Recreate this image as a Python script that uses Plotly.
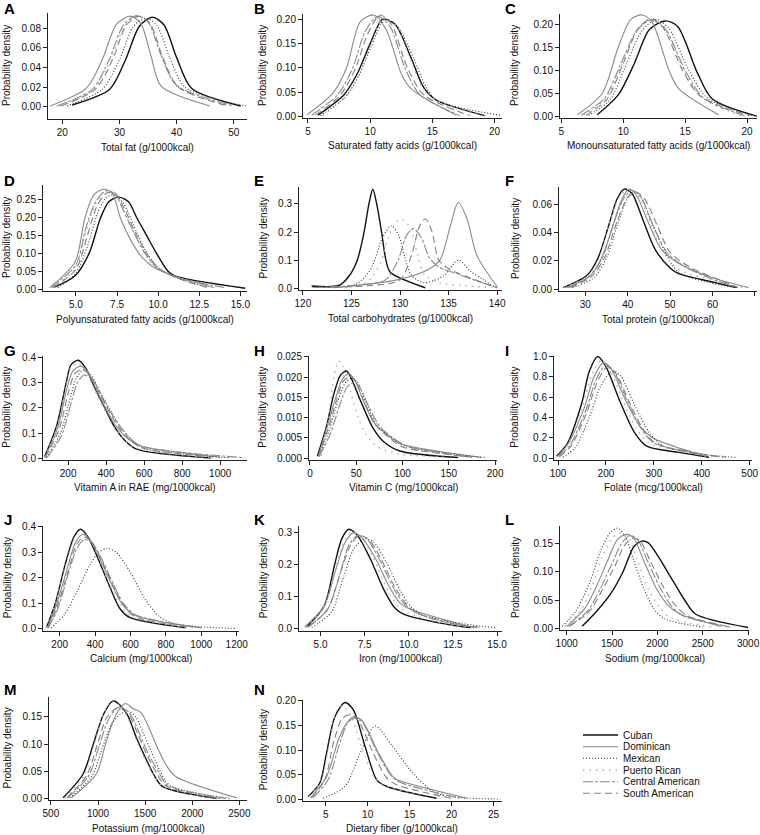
import plotly.graph_objects as go

W, H = 760, 835
SERIES = ["Cuban", "Dominican", "Mexican", "Puerto Rican", "Central American", "South American"]

# ---------------- data (series order as SERIES) ----------------
A_x = [[21.7, 28.3, 31.0, 33.5, 35.8, 37.8, 40.0, 42.6, 51.2],
       [17.9, 24.2, 27.0, 29.5, 31.9, 33.7, 35.5, 37.3, 45.8],
       [20.8, 27.0, 30.0, 32.5, 34.6, 36.5, 38.8, 41.5, 52.5],
       [19.5, 25.5, 28.5, 31.0, 33.2, 35.2, 37.5, 40.0, 49.5],
       [19.0, 25.3, 28.2, 30.7, 33.0, 35.0, 37.3, 40.0, 50.0],
       [19.8, 25.8, 28.8, 31.2, 33.4, 35.3, 37.6, 40.3, 49.0]]
A_y = [[0.002, 0.018, 0.047, 0.082, 0.091, 0.083, 0.050, 0.019, 0.001],
       [0.001, 0.019, 0.048, 0.084, 0.092, 0.085, 0.052, 0.021, 0.001],
       [0.001, 0.018, 0.048, 0.082, 0.090, 0.083, 0.050, 0.020, 0.0005],
       [0.001, 0.018, 0.048, 0.083, 0.092, 0.085, 0.050, 0.021, 0.001],
       [0.001, 0.018, 0.048, 0.083, 0.0925, 0.086, 0.052, 0.022, 0.001],
       [0.001, 0.018, 0.048, 0.083, 0.092, 0.085, 0.050, 0.020, 0.001]]

B_x = [[5.8, 7.9, 9.0, 10.0, 11.0, 12.0, 13.3, 14.3, 15.3, 19.2],
       [4.9, 7.0, 8.1, 9.2, 10.3, 11.3, 12.6, 13.4, 16.9],
       [6.0, 8.0, 9.1, 10.1, 11.2, 12.2, 13.5, 14.5, 15.4, 20.8],
       [6.2, 8.1, 9.1, 10.1, 11.0, 12.0, 13.2, 14.2, 15.3, 19.0],
       [5.3, 7.4, 8.6, 9.6, 10.6, 11.6, 12.8, 14.0, 17.2],
       [5.6, 7.6, 8.8, 9.8, 10.8, 11.7, 13.0, 14.3, 18.0]]
B_y = [[0.003, 0.045, 0.09, 0.15, 0.2, 0.19, 0.12, 0.06, 0.034, 0.002],
       [0.003, 0.048, 0.1, 0.195, 0.209, 0.178, 0.082, 0.055, 0.003],
       [0.002, 0.04, 0.085, 0.145, 0.2, 0.185, 0.12, 0.06, 0.033, 0.001],
       [0.002, 0.042, 0.088, 0.15, 0.201, 0.19, 0.12, 0.06, 0.034, 0.002],
       [0.003, 0.045, 0.1, 0.175, 0.206, 0.185, 0.1, 0.045, 0.002],
       [0.003, 0.044, 0.098, 0.17, 0.209, 0.19, 0.1, 0.045, 0.002]]

C_x = [[7.9, 9.6, 10.9, 12.1, 13.4, 14.4, 16.0, 17.2, 20.8],
       [6.3, 8.3, 9.6, 10.6, 11.5, 12.3, 13.7, 14.5, 17.7],
       [7.2, 8.9, 10.2, 11.5, 12.7, 13.7, 15.3, 16.8, 20.6],
       [6.8, 8.6, 10.0, 11.2, 12.3, 13.3, 14.9, 16.4, 19.5],
       [6.6, 8.5, 9.9, 11.2, 12.4, 13.4, 15.0, 16.5, 19.8],
       [7.0, 8.7, 10.0, 11.2, 12.2, 13.2, 14.8, 16.2, 20.2]]
C_y = [[0.004, 0.047, 0.115, 0.188, 0.207, 0.195, 0.094, 0.038, 0.001],
       [0.004, 0.05, 0.15, 0.21, 0.22, 0.206, 0.1, 0.06, 0.004],
       [0.003, 0.035, 0.11, 0.185, 0.21, 0.19, 0.1, 0.04, 0.001],
       [0.003, 0.04, 0.12, 0.19, 0.212, 0.195, 0.1, 0.04, 0.002],
       [0.003, 0.04, 0.12, 0.19, 0.21, 0.19, 0.1, 0.04, 0.002],
       [0.003, 0.038, 0.115, 0.19, 0.211, 0.193, 0.1, 0.045, 0.002]]

D_x = [[3.7, 4.95, 5.8, 6.5, 7.0, 7.6, 8.2, 8.7, 9.3, 9.9, 10.6, 11.0, 15.3],
       [3.4, 4.95, 5.55, 6.1, 6.7, 7.2, 7.7, 8.3, 9.0, 9.7, 11.0, 13.4],
       [3.9, 5.0, 5.7, 6.3, 6.8, 7.3, 7.9, 8.5, 9.2, 10.0, 11.2, 13.0],
       [3.6, 5.0, 5.6, 6.2, 6.8, 7.3, 7.9, 8.5, 9.2, 9.9, 11.2, 13.5],
       [3.5, 5.0, 5.6, 6.2, 6.8, 7.3, 7.9, 8.5, 9.2, 9.9, 11.2, 14.0],
       [3.6, 5.0, 5.7, 6.3, 6.9, 7.4, 8.0, 8.6, 9.3, 10.0, 11.2, 13.0]]
D_y = [[0.005, 0.037, 0.1, 0.2, 0.245, 0.258, 0.245, 0.2, 0.15, 0.1, 0.05, 0.037, 0.002],
       [0.004, 0.076, 0.2, 0.265, 0.28, 0.27, 0.2, 0.14, 0.09, 0.062, 0.036, 0.004],
       [0.003, 0.045, 0.12, 0.21, 0.255, 0.265, 0.24, 0.18, 0.11, 0.06, 0.03, 0.005],
       [0.004, 0.06, 0.16, 0.24, 0.275, 0.272, 0.22, 0.16, 0.1, 0.06, 0.032, 0.004],
       [0.004, 0.068, 0.17, 0.245, 0.275, 0.27, 0.22, 0.16, 0.1, 0.06, 0.032, 0.004],
       [0.004, 0.055, 0.15, 0.235, 0.27, 0.268, 0.22, 0.16, 0.1, 0.06, 0.03, 0.004]]

E_x = [[120.9, 123.7, 124.7, 125.6, 126.3, 126.8, 127.2, 127.6, 128.1, 128.55, 129.0, 132.6],
       [123.1, 129.7, 132.8, 134.1, 135.2, 136.0, 136.9, 137.9, 140.0],
       [121.5, 125.5, 127.0, 128.2, 129.1, 129.9, 130.5, 131.2, 132.5, 134.5, 136.0, 137.3, 138.6, 139.8],
       [123.0, 126.5, 128.0, 129.0, 130.0, 131.0, 131.8, 132.5, 134.0, 136.5, 139.5],
       [121.0, 126.0, 128.5, 129.8, 130.7, 131.4, 132.2, 133.0, 134.0, 136.0, 138.0, 140.0],
       [122.0, 127.0, 130.0, 131.2, 132.0, 132.6, 133.3, 134.0, 135.0, 137.0, 140.0]]
E_y = [[0.008, 0.01, 0.041, 0.1, 0.2, 0.3, 0.352, 0.3, 0.2, 0.1, 0.057, 0.002],
       [0.002, 0.03, 0.065, 0.1, 0.224, 0.306, 0.247, 0.118, 0.006],
       [0.003, 0.015, 0.07, 0.18, 0.222, 0.185, 0.11, 0.045, 0.02, 0.045, 0.1, 0.06, 0.03, 0.004],
       [0.003, 0.02, 0.09, 0.2, 0.246, 0.22, 0.12, 0.05, 0.02, 0.01, 0.002],
       [0.003, 0.012, 0.03, 0.1, 0.19, 0.212, 0.18, 0.11, 0.075, 0.05, 0.025, 0.003],
       [0.003, 0.01, 0.03, 0.12, 0.22, 0.247, 0.2, 0.1, 0.07, 0.04, 0.002]]

F_x = [[24.8, 30.5, 33.0, 35.5, 37.5, 39.2, 41.0, 43.5, 46.5, 50.0, 52.0, 60.0, 65.6],
       [25.5, 31.0, 33.5, 36.0, 38.5, 40.3, 42.0, 44.5, 48.0, 52.2, 60.0, 68.5],
       [27.0, 32.0, 35.0, 37.5, 40.0, 41.5, 43.0, 46.0, 49.0, 52.0, 60.0, 66.0],
       [25.0, 30.5, 33.0, 35.5, 38.0, 40.5, 42.5, 45.0, 48.0, 52.0, 60.0, 67.0],
       [26.0, 31.0, 34.0, 36.5, 39.0, 41.0, 43.0, 46.0, 49.5, 54.0, 60.0, 66.0],
       [26.5, 31.5, 34.5, 37.5, 40.0, 42.0, 44.0, 47.0, 50.0, 55.0, 62.0, 66.0]]
F_y = [[0.001, 0.01, 0.022, 0.045, 0.064, 0.071, 0.068, 0.05, 0.028, 0.015, 0.011, 0.005, 0.001],
       [0.001, 0.009, 0.02, 0.04, 0.063, 0.071, 0.067, 0.05, 0.028, 0.018, 0.008, 0.001],
       [0.001, 0.008, 0.022, 0.045, 0.065, 0.069, 0.066, 0.045, 0.025, 0.012, 0.004, 0.001],
       [0.001, 0.009, 0.02, 0.045, 0.065, 0.071, 0.066, 0.05, 0.028, 0.014, 0.006, 0.001],
       [0.001, 0.009, 0.022, 0.045, 0.064, 0.07, 0.066, 0.045, 0.025, 0.015, 0.007, 0.001],
       [0.001, 0.009, 0.022, 0.048, 0.065, 0.069, 0.064, 0.045, 0.026, 0.015, 0.006, 0.001]]

G_x = [[75, 140, 190, 215, 253, 290, 340, 400, 440, 500, 560, 950],
       [78, 145, 195, 225, 265, 300, 350, 410, 460, 520, 580, 1000],
       [85, 160, 215, 245, 280, 320, 370, 430, 480, 540, 600, 1050],
       [75, 140, 190, 215, 250, 290, 340, 400, 445, 500, 560, 950],
       [90, 165, 220, 250, 285, 325, 375, 430, 480, 540, 600, 1130],
       [80, 150, 205, 235, 270, 310, 360, 420, 470, 530, 590, 1000]]
G_y = [[0.005, 0.13, 0.3, 0.37, 0.388, 0.36, 0.28, 0.19, 0.13, 0.07, 0.037, 0.002],
       [0.005, 0.12, 0.28, 0.345, 0.365, 0.345, 0.27, 0.18, 0.12, 0.075, 0.05, 0.005],
       [0.004, 0.1, 0.25, 0.32, 0.35, 0.33, 0.26, 0.18, 0.12, 0.07, 0.04, 0.003],
       [0.005, 0.12, 0.29, 0.36, 0.375, 0.35, 0.27, 0.18, 0.12, 0.07, 0.04, 0.003],
       [0.004, 0.09, 0.23, 0.3, 0.33, 0.315, 0.25, 0.175, 0.12, 0.07, 0.045, 0.003],
       [0.005, 0.11, 0.27, 0.335, 0.35, 0.335, 0.265, 0.18, 0.12, 0.07, 0.042, 0.004]]

H_x = [[8, 18, 26, 33, 39.5, 45, 55, 68, 80, 97, 160],
       [9, 19, 28, 35, 42, 48, 58, 70, 85, 99, 185],
       [10, 21, 30, 38, 45, 51, 61, 73, 88, 102, 190],
       [12, 20, 26, 31, 36, 42, 50, 60, 72, 90, 150],
       [10, 22, 32, 40, 47, 53, 63, 75, 90, 105, 175],
       [9, 20, 29, 36, 43, 49, 59, 71, 86, 100, 180]]
H_y = [[0.0005, 0.008, 0.016, 0.0205, 0.0215, 0.0195, 0.014, 0.0075, 0.004, 0.0018, 0.0002],
       [0.0005, 0.008, 0.015, 0.0195, 0.0208, 0.0195, 0.014, 0.0085, 0.0055, 0.0035, 0.0002],
       [0.0005, 0.007, 0.014, 0.0185, 0.0197, 0.0188, 0.0135, 0.008, 0.005, 0.003, 0.0002],
       [0.0005, 0.01, 0.02, 0.024, 0.0225, 0.018, 0.0115, 0.006, 0.003, 0.0013, 0.0002],
       [0.0005, 0.006, 0.013, 0.0175, 0.0186, 0.0178, 0.013, 0.008, 0.005, 0.003, 0.0002],
       [0.0005, 0.0075, 0.0145, 0.019, 0.0202, 0.019, 0.0137, 0.0082, 0.005, 0.0028, 0.0002]]

I_x = [[97, 120, 150, 165, 183, 200, 230, 260, 285, 350, 415],
       [100, 122, 155, 175, 195, 212, 240, 270, 298, 360, 410],
       [110, 135, 165, 190, 215, 232, 260, 291, 320, 400, 470],
       [100, 122, 152, 170, 190, 207, 235, 265, 290, 360, 420],
       [102, 125, 158, 180, 200, 217, 245, 275, 300, 370, 440],
       [103, 127, 160, 182, 203, 220, 248, 278, 303, 370, 450]]
I_y = [[0.02, 0.15, 0.55, 0.85, 1.0, 0.9, 0.55, 0.25, 0.12, 0.06, 0.01],
       [0.02, 0.15, 0.5, 0.8, 0.94, 0.87, 0.58, 0.32, 0.2, 0.09, 0.02],
       [0.01, 0.1, 0.4, 0.72, 0.86, 0.8, 0.52, 0.25, 0.12, 0.04, 0.01],
       [0.02, 0.15, 0.52, 0.82, 0.96, 0.88, 0.57, 0.28, 0.15, 0.07, 0.01],
       [0.02, 0.13, 0.47, 0.78, 0.92, 0.85, 0.56, 0.28, 0.15, 0.07, 0.01],
       [0.015, 0.12, 0.45, 0.75, 0.9, 0.84, 0.56, 0.28, 0.15, 0.06, 0.01]]

J_x = [[125, 175, 230, 280, 318, 360, 420, 480, 540, 595, 910],
       [130, 180, 240, 290, 330, 370, 430, 490, 550, 620, 1000],
       [150, 230, 300, 370, 420, 470, 520, 600, 680, 760, 850, 1200],
       [125, 175, 230, 280, 320, 365, 425, 485, 545, 600, 930],
       [135, 190, 250, 300, 340, 380, 440, 500, 560, 630, 1000],
       [135, 185, 245, 295, 335, 375, 435, 495, 555, 620, 950]]
J_y = [[0.005, 0.1, 0.25, 0.36, 0.39, 0.36, 0.27, 0.17, 0.08, 0.045, 0.005],
       [0.005, 0.09, 0.23, 0.34, 0.37, 0.35, 0.27, 0.18, 0.1, 0.055, 0.005],
       [0.003, 0.06, 0.15, 0.25, 0.3, 0.315, 0.3, 0.22, 0.12, 0.05, 0.02, 0.002],
       [0.005, 0.1, 0.24, 0.35, 0.385, 0.36, 0.27, 0.17, 0.09, 0.05, 0.005],
       [0.005, 0.08, 0.22, 0.32, 0.35, 0.34, 0.27, 0.18, 0.1, 0.055, 0.005],
       [0.005, 0.085, 0.22, 0.33, 0.36, 0.345, 0.27, 0.18, 0.1, 0.05, 0.005]]

K_x = [[4.2, 5.2, 5.8, 6.2, 6.6, 7.1, 7.8, 8.6, 9.2, 9.7, 12.5, 13.5],
       [4.1, 5.2, 5.9, 6.4, 6.9, 7.4, 8.1, 8.9, 9.5, 10.1, 12.5, 13.7],
       [4.5, 5.6, 6.3, 6.9, 7.5, 8.0, 8.7, 9.5, 10.1, 10.7, 12.5, 15.0],
       [4.2, 5.2, 5.9, 6.4, 6.8, 7.3, 8.0, 8.8, 9.4, 9.9, 12.0, 13.5],
       [4.3, 5.4, 6.1, 6.6, 7.1, 7.6, 8.3, 9.1, 9.7, 10.4, 12.5, 14.0],
       [4.3, 5.4, 6.1, 6.7, 7.2, 7.7, 8.4, 9.2, 9.8, 10.4, 12.5, 14.2]]
K_y = [[0.005, 0.07, 0.2, 0.28, 0.31, 0.29, 0.22, 0.12, 0.065, 0.045, 0.01, 0.003],
       [0.005, 0.07, 0.19, 0.27, 0.3, 0.28, 0.22, 0.13, 0.08, 0.06, 0.02, 0.003],
       [0.004, 0.05, 0.16, 0.25, 0.28, 0.27, 0.21, 0.12, 0.07, 0.045, 0.02, 0.002],
       [0.005, 0.07, 0.2, 0.28, 0.3, 0.285, 0.22, 0.12, 0.07, 0.05, 0.015, 0.003],
       [0.005, 0.06, 0.17, 0.26, 0.29, 0.28, 0.22, 0.13, 0.08, 0.05, 0.015, 0.003],
       [0.005, 0.06, 0.17, 0.26, 0.29, 0.28, 0.22, 0.13, 0.08, 0.05, 0.015, 0.003]]

L_x = [[1170, 1330, 1480, 1620, 1740, 1830, 1900, 2000, 2150, 2300, 2420, 3000],
       [1000, 1200, 1330, 1450, 1560, 1660, 1740, 1850, 1990, 2120, 2250, 2700],
       [950, 1100, 1250, 1380, 1480, 1560, 1640, 1740, 1850, 1980, 2100, 2500],
       [980, 1150, 1280, 1400, 1510, 1600, 1680, 1780, 1900, 2030, 2150, 2600],
       [1020, 1230, 1370, 1500, 1610, 1700, 1780, 1890, 2020, 2150, 2280, 2800],
       [1030, 1250, 1400, 1530, 1640, 1730, 1810, 1920, 2060, 2200, 2330, 2800]]
L_y = [[0.003, 0.03, 0.06, 0.1, 0.145, 0.155, 0.152, 0.13, 0.09, 0.05, 0.025, 0.001],
       [0.003, 0.035, 0.075, 0.12, 0.158, 0.167, 0.16, 0.12, 0.07, 0.04, 0.025, 0.003],
       [0.003, 0.03, 0.08, 0.14, 0.17, 0.178, 0.165, 0.12, 0.07, 0.03, 0.015, 0.002],
       [0.003, 0.03, 0.075, 0.13, 0.162, 0.17, 0.162, 0.12, 0.07, 0.035, 0.018, 0.002],
       [0.003, 0.03, 0.07, 0.115, 0.152, 0.165, 0.158, 0.12, 0.075, 0.04, 0.022, 0.002],
       [0.003, 0.03, 0.07, 0.11, 0.148, 0.16, 0.155, 0.12, 0.075, 0.04, 0.022, 0.002]]

M_x = [[630, 840, 950, 1060, 1160, 1240, 1314, 1400, 1490, 1590, 1682, 2260],
       [717, 980, 1080, 1180, 1290, 1370, 1455, 1540, 1640, 1730, 1823, 2472],
       [700, 930, 1040, 1140, 1240, 1320, 1400, 1480, 1570, 1660, 1760, 2400],
       [650, 860, 960, 1060, 1150, 1230, 1310, 1400, 1490, 1590, 1690, 2300],
       [680, 900, 1010, 1110, 1210, 1280, 1360, 1450, 1540, 1640, 1740, 2350],
       [670, 880, 990, 1090, 1190, 1260, 1340, 1430, 1520, 1620, 1720, 2300]]
M_y = [[0.002, 0.045, 0.1, 0.155, 0.179, 0.17, 0.153, 0.115, 0.08, 0.045, 0.023, 0.001],
       [0.002, 0.045, 0.1, 0.15, 0.174, 0.165, 0.158, 0.13, 0.09, 0.06, 0.041, 0.002],
       [0.002, 0.04, 0.09, 0.135, 0.155, 0.16, 0.15, 0.12, 0.085, 0.05, 0.025, 0.001],
       [0.002, 0.045, 0.1, 0.155, 0.18, 0.17, 0.15, 0.11, 0.075, 0.045, 0.022, 0.001],
       [0.002, 0.042, 0.095, 0.145, 0.167, 0.165, 0.15, 0.115, 0.08, 0.05, 0.025, 0.001],
       [0.002, 0.043, 0.097, 0.148, 0.165, 0.163, 0.15, 0.115, 0.08, 0.048, 0.024, 0.001]]

N_x = [[2.9, 4.3, 5.1, 6.1, 7.3, 8.3, 9.7, 11.1, 12.3, 18.2],
       [3.2, 5.1, 6.5, 7.5, 8.3, 9.3, 11.3, 13.0, 13.6, 21.8],
       [4.7, 7.3, 9.1, 10.9, 13.0, 15.4, 18.2, 25.8],
       [3.0, 4.5, 5.5, 6.3, 7.0, 7.9, 9.2, 10.8, 12.5, 19.0],
       [3.5, 5.3, 6.6, 7.6, 8.4, 9.3, 11.0, 12.8, 13.8, 21.0],
       [3.3, 4.9, 6.0, 7.0, 8.0, 8.9, 10.5, 12.2, 13.4, 20.0]]
N_y = [[0.005, 0.033, 0.094, 0.168, 0.197, 0.182, 0.107, 0.039, 0.026, 0.002],
       [0.003, 0.046, 0.12, 0.155, 0.168, 0.161, 0.094, 0.046, 0.039, 0.002],
       [0.002, 0.026, 0.094, 0.149, 0.107, 0.053, 0.012, 0.0005],
       [0.005, 0.04, 0.12, 0.18, 0.19, 0.175, 0.11, 0.045, 0.025, 0.002],
       [0.003, 0.04, 0.11, 0.155, 0.165, 0.158, 0.1, 0.048, 0.035, 0.002],
       [0.003, 0.04, 0.12, 0.165, 0.172, 0.16, 0.1, 0.045, 0.03, 0.002]]

X_TITLES = ["Total fat (g/1000kcal)", "Saturated fatty acids (g/1000kcal)",
            "Monounsaturated fatty acids (g/1000kcal)", "Polyunsaturated fatty acids (g/1000kcal)",
            "Total carbohydrates (g/1000kcal)", "Total protein (g/1000kcal)",
            "Vitamin A in RAE (mg/1000kcal)", "Vitamin C (mg/1000kcal)", "Folate (mcg/1000kcal)",
            "Calcium (mg/1000kcal)", "Iron (mg/1000kcal)", "Sodium (mg/1000kcal)",
            "Potassium (mg/1000kcal)", "Dietary fiber (g/1000kcal)"]
LETTERS = list("ABCDEFGHIJKLMN")
X_TICKS = [[20, 30, 40, 50], [5, 10, 15, 20], [5, 10, 15, 20], [5, 7.5, 10, 12.5, 15],
           [120, 125, 130, 135, 140], [30, 40, 50, 60, 70], [200, 400, 600, 800, 1000],
           [0, 50, 100, 150, 200], [100, 200, 300, 400, 500], [200, 400, 600, 800, 1000, 1200],
           [5, 7.5, 10, 12.5, 15], [1000, 1500, 2000, 2500, 3000], [500, 1000, 1500, 2000, 2500],
           [5, 10, 15, 20, 25]]
Y_TICKS = [[0, 0.02, 0.04, 0.06, 0.08], [0, 0.05, 0.10, 0.15, 0.20], [0, 0.05, 0.10, 0.15, 0.20],
           [0, 0.05, 0.10, 0.15, 0.20, 0.25], [0, 0.1, 0.2, 0.3], [0, 0.02, 0.04, 0.06],
           [0, 0.1, 0.2, 0.3, 0.4], [0, 0.005, 0.010, 0.015, 0.020, 0.025], [0, 0.2, 0.4, 0.6, 0.8, 1.0],
           [0, 0.1, 0.2, 0.3, 0.4], [0, 0.1, 0.2, 0.3], [0, 0.05, 0.10, 0.15], [0, 0.05, 0.10, 0.15],
           [0, 0.05, 0.10, 0.15, 0.20]]

PANEL_X = [A_x, B_x, C_x, D_x, E_x, F_x, G_x, H_x, I_x, J_x, K_x, L_x, M_x, N_x]
PANEL_Y = [A_y, B_y, C_y, D_y, E_y, F_y, G_y, H_y, I_y, J_y, K_y, L_y, M_y, N_y]

# ---------------- layout geometry (pixels) ----------------
GEOM = [
    ((48, 247, 13, 119), (17.5, 52.3), (-0.0122, 0.0952), "d", ".2f"),
    ((303, 502, 14, 118), (4.6, 20.6), (-0.003, 0.211), "d", ".2f"),
    ((560, 757, 14, 118), (4.9, 20.8), (-0.003, 0.222), "d", ".2f"),
    ((43, 247, 185, 291), (3.0, 15.4), (-0.0056, 0.292), ".1f", ".2f"),
    ((299, 502, 187, 290), (119.6, 140.5), (-0.006, 0.36), "d", ".1f"),
    ((559, 757, 187, 291), (23.8, 70.5), (-0.0014, 0.0725), "d", ".2f"),
    ((43, 247, 356, 459.5), (68, 1141), (-0.004, 0.405), "d", ".1f"),
    ((309, 497, 356, 459.5), (-1, 202), (-0.0003, 0.0252), "d", ".3f"),
    ((554, 752, 356, 459.5), (91.6, 504.8), (-0.012, 1.005), "d", ".1f"),
    ((43, 239, 526, 630.5), (105.6, 1213), (-0.006, 0.403), "d", ".1f"),
    ((299, 502, 526, 630.5), (3.78, 15.28), (-0.006, 0.32), ".1f", ".1f"),
    ((560, 749, 526, 630), (926, 3010), (-0.0035, 0.182), "d", ".2f"),
    ((49, 247, 697, 800), (480, 2581), (-0.002, 0.186), "d", ".2f"),
    ((303, 502, 700, 800.5), (2.3, 26.0), (-0.0025, 0.202), "d", ".2f"),
]
YTITLE_X = [7, 263, 515]
LETTER_X = [2, 252, 503]
LETTER_Y = [8, 180, 350, 519, 689]

STYLES = [
    dict(color="#111111", width=1.4, dash="solid"),
    dict(color="#8a8a8a", width=1.1, dash="solid"),
    dict(color="#333333", width=1.1, dash="1px,2px"),
    dict(color="#b0b0b0", width=1.4, dash="1.5px,5px"),
    dict(color="#8a8a8a", width=1.1, dash="10px,2px,3px,2px"),
    dict(color="#808080", width=1.1, dash="7px,4px"),
]

LEG_X0, LEG_X1, LEG_TX = 583, 618, 621
LEG_Y = [735, 746.7, 758.3, 770, 781.7, 793.3]

FONT = "Liberation Sans, Arial, Helvetica, sans-serif"

fig = go.Figure()
annotations = []
shapes = []
layout = {}

def fx(px):
    return px / W

def fy(py):
    return 1 - py / H

for i in range(14):
    (l, r, t, b), xr, yr, xf, yf = GEOM[i]
    n = i + 1
    xa = "xaxis" if n == 1 else f"xaxis{n}"
    ya = "yaxis" if n == 1 else f"yaxis{n}"
    xref = "x" if n == 1 else f"x{n}"
    yref = "y" if n == 1 else f"y{n}"
    for s in range(6):
        st = STYLES[s]
        fig.add_trace(go.Scatter(
            x=PANEL_X[i][s], y=PANEL_Y[i][s], mode="lines",
            line=dict(color=st["color"], width=st["width"], dash=st["dash"],
                      shape="spline", smoothing=0.8),
            name=SERIES[s], showlegend=False,
            xaxis=xref, yaxis=yref, hoverinfo="skip"))
    common = dict(showgrid=False, zeroline=False, showline=True, linecolor="#222",
                  linewidth=1, ticks="outside", ticklen=4, tickwidth=1, tickcolor="#222",
                  tickfont=dict(family=FONT, size=10, color="#111"), fixedrange=True,
                  automargin=False)
    layout[xa] = dict(common, domain=[fx(l), fx(r)], range=list(xr), anchor=yref,
                      tickvals=X_TICKS[i],
                      ticktext=[format(v, ".1f") if xf == ".1f" else str(int(v)) for v in X_TICKS[i]])
    layout[ya] = dict(common, domain=[fy(b), fy(t)], range=list(yr), anchor=xref,
                      tickvals=Y_TICKS[i], ticktext=[format(v, yf) for v in Y_TICKS[i]])
    col = i % 3
    row = i // 3
    annotations.append(dict(text=X_TITLES[i], x=fx((l + r) / 2), y=fy(b + 28), xref="paper", yref="paper",
                            showarrow=False, xanchor="center", yanchor="middle",
                            font=dict(family=FONT, size=10, color="#111")))
    annotations.append(dict(text="Probability density", x=fx(YTITLE_X[col]), y=fy((t + b) / 2),
                            xref="paper", yref="paper", showarrow=False, textangle=-90,
                            xanchor="center", yanchor="middle",
                            font=dict(family=FONT, size=10, color="#111")))
    annotations.append(dict(text="<b>" + LETTERS[i] + "</b>", x=fx(LETTER_X[col]), y=fy(LETTER_Y[row]),
                            xref="paper", yref="paper", showarrow=False, xanchor="left", yanchor="middle",
                            font=dict(family=FONT, size=15, color="#000")))

for s in range(6):
    st = STYLES[s]
    shapes.append(dict(type="line", xref="paper", yref="paper",
                       x0=fx(LEG_X0), x1=fx(LEG_X1), y0=fy(LEG_Y[s]), y1=fy(LEG_Y[s]),
                       line=dict(color=st["color"], width=st["width"], dash=st["dash"])))
    annotations.append(dict(text=SERIES[s], x=fx(LEG_TX), y=fy(LEG_Y[s]), xref="paper", yref="paper",
                            showarrow=False, xanchor="left", yanchor="middle",
                            font=dict(family=FONT, size=10, color="#111")))

fig.update_layout(**layout)
fig.update_layout(
    width=W, height=H, margin=dict(l=0, r=0, t=0, b=0, autoexpand=False),
    paper_bgcolor="white", plot_bgcolor="white",
    annotations=annotations, shapes=shapes,
    showlegend=False,
)

fig.write_html("out.html", config={"displayModeBar": False, "staticPlot": True},
               post_script="document.body.style.margin='0';document.body.style.overflow='hidden';")
